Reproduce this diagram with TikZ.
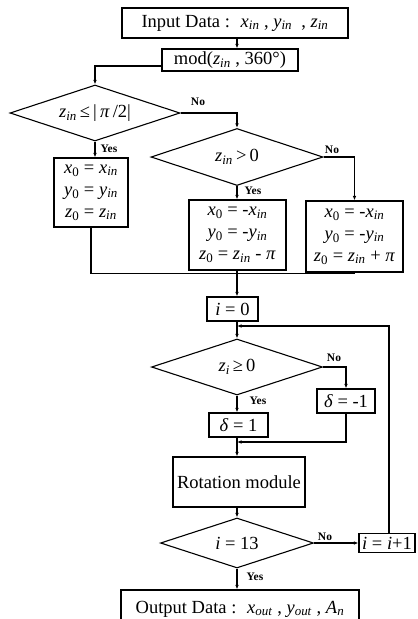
\documentclass[tikz,border=0pt]{standalone}
\usepackage{fontspec}
\setmainfont{Liberation Serif}
\usetikzlibrary{shapes.geometric,arrows.meta}
\newcommand\vv[2]{\textit{#1}\textsubscript{\textit{#2}}}
\newcommand\vz[1]{\textit{#1}\textsubscript{0}}
\begin{document}
\begin{tikzpicture}[x=1pt,y=-1pt,
  every node/.style={font=\fontsize{18.5}{22}\selectfont, inner sep=0pt},
  box/.style={draw, line width=1.1pt, align=center},
  dec/.style={draw, diamond, aspect=3.2, line width=1.1pt},
  lbl/.style={font=\fontsize{11.5}{13}\selectfont\bfseries},
  line/.style={line width=1.1pt},
  arr/.style={line, -{Latex[length=4.5pt,width=3.5pt]}}]
\useasboundingbox (0,0) rectangle (418,619);
\coordinate (cx) at (237,0);
% nodes
\node[box, minimum width=226pt, minimum height=30pt] (in) at (235,23)
  {Input Data : \ \vv{x}{in} , \vv{y}{in} \ , \vv{z}{in}};
\node[box, minimum width=136pt, minimum height=22pt] (mod) at (230,60)
  {mod(\vv{z}{in} , 360°)};
\node[dec, minimum width=170pt, minimum height=56pt] (d1) at (95,113)
  {\vv{z}{in}\,≤\,|\,\textit{π}\,/2|};
\node[dec, minimum width=172pt, minimum height=57pt] (d2) at (237,157)
  {\vv{z}{in}\,>\,0};
\node[box, minimum width=74pt, minimum height=69pt] (b1) at (91,192.5)
  {\vz{x} = \vv{x}{in}\\ \vz{y} = \vv{y}{in}\\ \vz{z} = \vv{z}{in}};
\node[box, minimum width=97pt, minimum height=70pt] (b2) at (237.5,235)
  {\vz{x} = -\vv{x}{in}\\ \vz{y} = -\vv{y}{in}\\ \vz{z} = \vv{z}{in} - \textit{π}};
\node[box, minimum width=97pt, minimum height=71pt] (b3) at (354.5,236.5)
  {\vz{x} = -\vv{x}{in}\\ \vz{y} = -\vv{y}{in}\\ \vz{z} = \vv{z}{in} + \textit{π}};
\node[box, minimum width=51pt, minimum height=24pt] (i0) at (232.5,309)
  {\textit{i} = 0};
\node[dec, minimum width=171pt, minimum height=56pt] (d3) at (237,367)
  {\vv{z}{i}\,≥\,0};
\node[box, minimum width=58pt, minimum height=24pt] (dm) at (346,401)
  {\textit{δ} = -1};
\node[box, minimum width=59pt, minimum height=24pt] (dp) at (238.5,425)
  {\textit{δ} = 1};
\node[box, minimum width=132pt, minimum height=50pt] (rot) at (239,482)
  {Rotation module};
\node[dec, minimum width=153pt, minimum height=50pt] (d4) at (237,543)
  {\textit{i} = 13};
\node[box, minimum width=56pt, minimum height=19pt] (inc) at (387,543)
  {\textit{i} = \textit{i}+1};
\node[box, minimum width=238pt, minimum height=40pt] (out) at (240,610)
  {\raisebox{6pt}{Output Data : \ \vv{x}{out} , \vv{y}{out} , \vv{A}{n}}};
% connectors
\draw[arr] (in.south -| cx) -- (mod.north -| cx);
\draw[arr] ([yshift=-6pt]mod.west) -| (d1.north);
\draw[arr] (d1.east) -| (d2.north);
\draw[arr] (d1.south) -- (d1.south |- b1.north);
\draw[arr] (d2.east) -| (b3.north);
\draw[arr] (d2.south) -- (d2.south |- b2.north);
\coordinate (mj) at (0,273.5);
\draw[line] (b1.south) |- (b3.south |- mj) -- (b3.south);
\draw[arr] (b2.south -| cx) -- (i0.north -| cx);
\draw[arr] (i0.south -| cx) -- (d3.north);
\draw[arr] (d3.east) -| (dm.north);
\draw[arr] (d3.south) -- (d3.south |- dp.north);
\coordinate (j2) at (0,442);
\draw[arr] (dm.south) |- (j2 -| cx);
\draw[arr] (dp.south -| cx) -- (rot.north -| cx);
\draw[arr] (rot.south -| cx) -- (d4.north);
\draw[arr] (d4.east) -- (inc.west);
\coordinate (j1) at (0,326);
\draw[arr] ([xshift=2pt]inc.north) |- (j1 -| cx);
\draw[arr] (d4.south) -- (d4.south |- out.north);
% labels
\node[lbl] at (198,102) {No};
\node[lbl] at (109,149) {Yes};
\node[lbl] at (332,150) {No};
\node[lbl] at (253,191) {Yes};
\node[lbl] at (334,358) {No};
\node[lbl] at (258,401) {Yes};
\node[lbl] at (325,537) {No};
\node[lbl] at (255,577) {Yes};
\end{tikzpicture}
\end{document}
